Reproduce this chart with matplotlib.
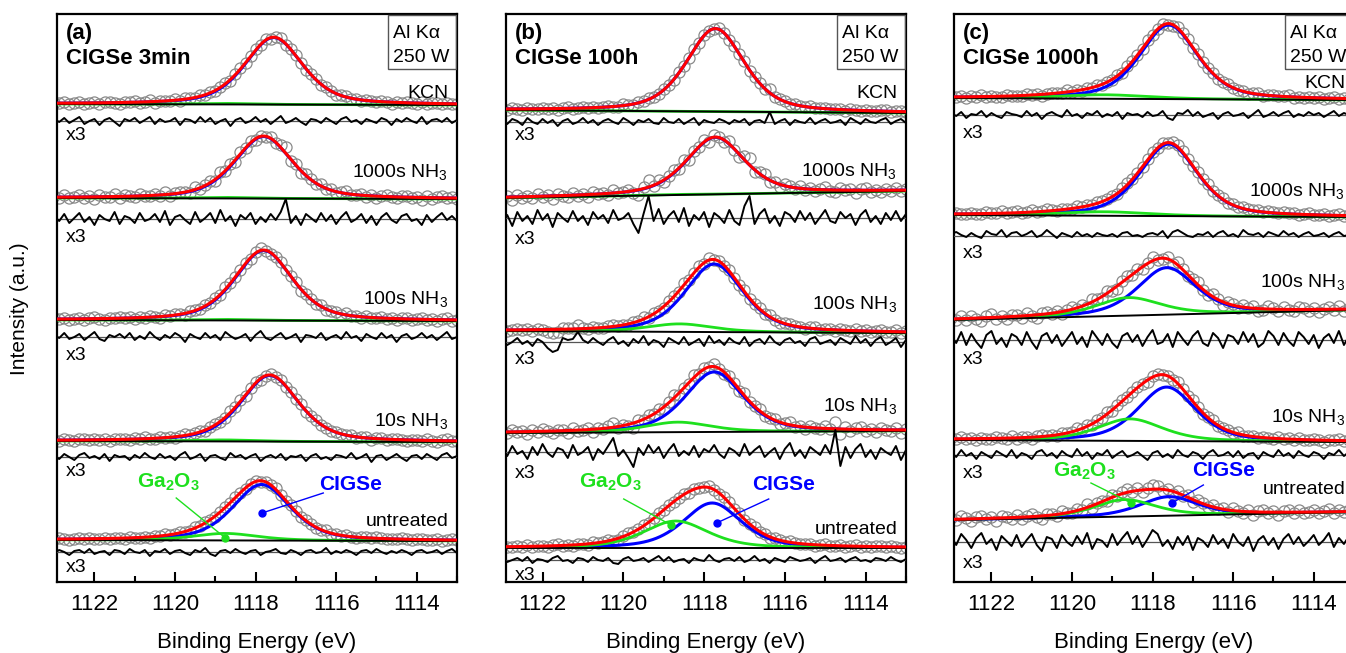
import numpy as np
import matplotlib
matplotlib.use('Agg')
import matplotlib.pyplot as plt
from matplotlib.patches import Rectangle

plt.rcParams['font.family'] = ['Liberation Sans', 'DejaVu Sans']
plt.rcParams['mathtext.fontset'] = 'custom'
plt.rcParams['mathtext.rm'] = 'Liberation Sans'
plt.rcParams['mathtext.bf'] = 'Liberation Sans:bold'

# ---- data (intensities in arbitrary units) ----
treatments = ['KCN', '1000s NH$_3$', '100s NH$_3$', '10s NH$_3$', 'untreated']
samples = ['CIGSe 3min', 'CIGSe 100h', 'CIGSe 1000h']
tags = ['(a)', '(b)', '(c)']
major_ticks = [1122, 1120, 1118, 1116, 1114]

# CIGSe component: position (eV), height, fwhm
cigse_pos_a = [1117.55, 1117.8, 1117.8, 1117.65, 1117.85]
cigse_amp_a = [67, 62, 70, 66, 56]
cigse_pos_b = [1117.72, 1117.72, 1117.75, 1117.75, 1117.8]
cigse_amp_b = [83, 57, 68, 60, 45]
cigse_pos_c = [1117.6, 1117.6, 1117.65, 1117.65, 1117.6]
cigse_amp_c = [74, 72, 47, 54, 19]
cigse_fwhm = 1.7

# Ga2O3 component
ga_pos_a = [1118.8, 1118.8, 1118.8, 1118.8, 1118.75]
ga_amp_a = [1, 1, 1, 1.5, 7]
ga_pos_b = [1118.7, 1118.7, 1118.6, 1118.65, 1118.7]
ga_amp_b = [0, 0.5, 8, 10, 27]
ga_pos_c = [1119.2, 1119.2, 1118.6, 1118.56, 1118.7]
ga_amp_c = [4, 4, 18, 22, 17]
ga_fwhm_c = [2.6, 2.6, 1.9, 1.9, 1.8]
ga_fwhm = 1.9

# background: level difference high-BE side minus low-BE side
bg_tilt_a = [1, 1, 1, 1, 1]
bg_tilt_b = [3, -7, 2, -2, 0]
bg_tilt_c = [2, 2, -10, 2, -8]

# residuals (already multiplied by 3, as plotted)
res_a = [
    [2,-1,3,-2,1,4,-3,0,2,-4,1,3,-1,-5,2,0,3,-2,1,4,-3,2,-1,0,3,-4,2,1,-2,4,-1,3,-3,0,2,-5,1,3,-2,0,4,-1,2,-3,1,5,-2,0,3,-1,-4,2,1,-2,3,0,-3,2,4,-1,1,-3,2,0,-2,3,1,-4,2,-1,3,0,-2,4,-3,1,2,-1,3,-2,1],
    [3,-2,5,-4,1,6,-3,2,-6,4,0,-2,7,-5,3,1,-4,6,-2,0,5,-3,8,-6,2,4,-1,-5,7,-3,1,6,-4,9,-2,3,-7,4,0,6,-5,2,-3,5,-1,7,20,-4,3,-6,5,1,-3,6,-2,4,-5,2,7,-3,0,5,-4,3,-6,2,6,-1,-4,3,5,-2,0,-6,4,-3,2,6,-1,3,-2],
    [2,-1,4,-2,0,3,-3,1,5,-2,-4,2,0,3,-1,4,-3,1,-2,5,0,-3,2,-1,4,1,-5,3,0,-2,4,-1,2,-3,5,1,-2,0,3,-4,2,6,-1,-3,1,4,-2,0,3,-5,2,1,-1,4,-3,0,2,-2,5,-1,1,-4,3,0,-2,4,-1,2,-5,1,3,-2,0,4,-1,2,-3,1,5,-2,0],
    [1,-2,3,0,-3,2,4,-1,1,-2,3,-4,2,0,1,-3,2,-1,4,0,-2,3,-1,1,-3,2,5,-2,0,3,-4,1,2,-1,-3,4,0,2,-2,1,3,-4,0,2,-1,3,-3,1,0,2,-4,1,3,-2,0,-3,2,1,-1,4,-2,0,3,-5,1,2,-3,0,3,-1,-4,1,2,-2,3,0,-3,2,4,-1,1],
    [-1,2,0,-3,1,2,-1,3,-2,0,1,-3,2,1,-2,3,0,-1,2,-4,1,0,3,-2,1,2,-1,-3,2,0,4,-2,-4,1,2,-1,3,0,-2,1,2,-3,0,1,3,-1,-2,2,0,-3,1,2,-1,0,4,-2,1,-1,2,0,-3,1,2,-1,3,0,-2,1,-1,2,0,-3,1,2,-1,0,2,-2,1,3,-1],
]
res_b = [
    [2,-2,3,1,-3,4,0,-2,3,-1,2,-4,1,3,-2,0,4,-1,2,-3,1,3,0,-2,4,1,-3,2,0,3,-1,-2,4,0,-1,3,-2,1,4,-3,2,0,-1,3,1,-2,2,0,3,-3,1,2,-1,10,-2,1,3,-3,2,0,-1,4,-2,1,3,-1,0,2,-3,4,1,-2,3,0,-1,2,4,-2,1,3,-1],
    [-5,3,-8,6,-3,2,-6,8,-2,4,-9,5,0,-4,7,-3,2,-7,6,-1,3,-5,8,-2,0,5,-6,-15,4,22,-3,9,-6,2,7,-4,10,-8,3,-2,6,-9,5,1,-5,8,-3,-7,12,22,-6,4,9,-5,2,-8,6,3,-4,7,-2,5,-6,1,8,-3,-5,6,0,4,-7,3,8,-4,2,-6,5,-2,7,-3,4],
    [2,-3,0,4,-2,1,-4,3,0,-6,-10,-8,4,2,3,10,2,-1,4,0,-3,2,5,-2,1,-4,3,-1,6,-3,2,0,-5,4,1,-2,5,-3,0,3,-4,6,-1,2,-3,4,0,-2,5,-4,1,3,-2,6,0,-3,2,4,-1,1,-4,3,5,-2,0,2,-3,4,1,-2,6,-1,3,-4,2,5,-3,0,4,-5,2],
    [3,-4,6,-2,1,-7,5,-3,8,-1,-5,4,2,-6,7,-3,0,5,-8,3,-2,6,14,-4,2,-6,-15,4,-3,7,-1,5,-6,2,8,-4,1,-3,6,-5,3,0,7,-2,-6,4,1,-4,8,-3,2,6,-5,0,4,-7,3,9,-4,2,-6,5,1,-3,7,-2,22,-14,5,-6,3,8,-5,2,-7,4,0,-3,6,-8,2],
    [1,-2,0,2,-1,3,-3,1,0,-2,2,4,-1,0,-3,2,1,-2,3,0,-1,2,-3,-4,1,3,-1,0,2,-2,1,4,-1,3,-2,0,1,-3,2,0,-1,5,0,-2,1,2,-1,3,-2,0,4,-1,1,-3,2,0,-2,3,1,-1,0,2,-3,1,4,-1,0,2,-2,1,3,-1,0,-2,2,1,-1,3,0,-2,1],
]
res_c = [
    [2,-1,3,-3,1,0,4,-2,2,-1,-3,3,1,0,-2,4,-1,2,-4,1,3,0,-2,5,-1,1,-3,2,0,4,-2,1,-1,3,-4,2,0,1,-2,3,-1,0,4,-3,-5,2,1,5,-1,3,-2,0,2,-4,1,3,-1,0,2,-3,1,5,-2,0,3,-1,2,4,-2,1,-1,3,0,2,-2,1,4,-1,2,0,1],
    [2,4,1,-1,3,0,-2,5,2,1,6,-1,3,4,0,2,5,-1,1,6,2,-2,3,1,-1,4,0,2,-1,3,1,0,2,-1,3,4,0,1,-1,2,3,1,5,-2,4,6,3,0,-1,2,1,4,-1,3,5,0,2,-1,6,2,1,3,-1,4,2,0,5,1,3,-1,2,4,0,1,3,-1,2,4,0,1,2],
    [4,-3,8,-5,6,-2,-8,5,9,-4,2,-7,6,3,-5,8,-2,-9,4,7,-3,5,-6,1,8,-4,3,-7,9,2,-5,6,-3,-8,4,7,-2,5,-6,3,10,-4,-2,6,-7,8,1,-5,4,9,-3,-6,7,2,-8,5,3,-4,8,-2,6,-7,-3,9,4,-5,7,-1,-6,8,3,-4,5,-8,2,6,-3,9,-5,4,-2],
    [3,-2,5,-1,2,-4,3,0,-3,4,1,-2,5,-3,2,0,-4,3,5,-1,2,-3,4,0,-2,6,-1,3,-4,2,0,5,-3,1,4,-2,0,3,-1,-5,2,4,-2,1,-3,5,0,-2,3,1,-4,2,5,-1,0,3,-2,4,-3,1,2,-4,3,0,-2,5,-1,2,-3,4,0,-2,3,1,-4,2,0,5,-1,3,-2],
    [5,-3,8,2,-6,4,9,-2,3,-8,6,1,-4,7,-5,2,8,-3,-9,5,3,-6,7,0,-4,6,-2,9,-7,3,1,-5,8,-3,4,10,-2,6,-5,3,12,8,-4,2,-7,5,-3,6,-8,4,1,-5,7,-2,3,-6,8,0,-4,5,-9,2,6,-3,4,-7,3,8,-2,5,-4,1,7,-3,2,9,-5,4,-2,6,3],
]

# ---- layout (pixel rows measured from top of figure) ----
W, H = 1346, 653
ax_top, ax_bot = 14, 582
px_per_ev = 40.875
panel_left = [57, 506, 954]
x1122_px = [95, 543, 992]
base_py = [[105, 199, 321, 442, 541], [113, 191, 333, 431, 548], [100, 217, 310, 442, 512]]
resid_py = [[121, 219, 337, 457, 552], [122, 218, 342, 452, 560], [115, 236, 340, 455, 542]]
x3_py = [[136, 238, 355, 472, 568], [135, 240, 360, 473, 575], [133, 253, 360, 473, 563]]
label_py = [[93, 173, 300, 422, 522], [93, 172, 305, 407, 529], [84, 192, 283, 418, 490]]
# annotation: (text E, text py, line start E, py, dot E, py)
ga_note = [(1120.17, 482, 1119.97, 498, 1118.75, 538),
           (1120.31, 482, 1119.99, 499, 1118.82, 525),
           (1119.70, 471, 1119.53, 483, 1118.53, 503)]
cig_note = [(1115.64, 485, 1116.32, 493, 1117.84, 513),
            (1116.03, 485, 1116.40, 499, 1117.69, 523),
            (1116.25, 471, 1116.74, 485, 1117.52, 503)]

RED, BLUE, GREEN, GREY = '#ff0000', '#0000ff', '#1ee01e', '#8a8a8a'


def pvoigt(e, pos, amp, fwhm, eta=0.5):
    u = (e - pos) / fwhm
    return amp * (eta / (1 + 4 * u ** 2) + (1 - eta) * np.exp(-4 * np.log(2) * u ** 2))


def yv(py):
    return ax_bot - py


panels = [
    (cigse_pos_a, cigse_amp_a, ga_pos_a, ga_amp_a, [ga_fwhm] * 5, bg_tilt_a, res_a),
    (cigse_pos_b, cigse_amp_b, ga_pos_b, ga_amp_b, [ga_fwhm] * 5, bg_tilt_b, res_b),
    (cigse_pos_c, cigse_amp_c, ga_pos_c, ga_amp_c, ga_fwhm_c, bg_tilt_c, res_c),
]

fig = plt.figure(figsize=(W / 100, H / 100), dpi=100)
e_fine = np.linspace(1123.5, 1112.5, 600)

for p, (cpos, camp, gpos, gamp, gfw, tilt, res) in enumerate(panels):
    ax = fig.add_axes([panel_left[p] / W, 1 - ax_bot / H, 400 / W, (ax_bot - ax_top) / H])
    xl = 1122 + (x1122_px[p] - panel_left[p]) / px_per_ev
    ax.set_xlim(xl, xl - 400 / px_per_ev)
    ax.set_ylim(0, ax_bot - ax_top)

    for i in range(5):
        y0 = yv(base_py[p][i])

        def parts(e):
            bg = y0 + tilt[i] * (e - 1113) / 10.0
            cg = pvoigt(e, cpos[i], camp[i], cigse_fwhm)
            ga = pvoigt(e, gpos[i], gamp[i], gfw[i])
            return bg, cg, ga

        bg, cg, ga = parts(e_fine)
        r = np.array(res[i], dtype=float)
        e_d = np.linspace(1123, 1113, len(r))
        bgd, cgd, gad = parts(e_d)
        ax.plot(e_d, bgd + cgd + gad + r / 3, 'o', mfc='none', mec=GREY, ms=8, mew=0.9, zorder=2)
        ax.plot(e_fine, bg + cg, color=BLUE, lw=2.2, zorder=3)
        ax.plot(e_fine, bg + ga, color=GREEN, lw=2.0, zorder=3)
        ax.plot(e_fine, bg, color='black', lw=1.4, zorder=3)
        ax.plot(e_fine, bg + cg + ga, color=RED, lw=2.2, zorder=4)

        rc = yv(resid_py[p][i])
        ax.axhline(rc, color='#555555', lw=0.9, zorder=3)
        ax.plot(e_d, rc + r, color='black', lw=1.4, zorder=4)

        ax.text(0.022, yv(x3_py[p][i]) / (ax_bot - ax_top), 'x3', transform=ax.transAxes,
                ha='left', va='center', fontsize=14)
        ax.text(0.978, yv(label_py[p][i]) / (ax_bot - ax_top), treatments[i],
                transform=ax.transAxes, ha='right', va='center', fontsize=14)

    # component annotations
    for note, col, txt in [(ga_note[p], GREEN, r'Ga$_\mathbf{2}$O$_\mathbf{3}$'),
                           (cig_note[p], BLUE, 'CIGSe')]:
        te, tpy, le, lpy, de, dpy = note
        ax.text(te, yv(tpy), txt, color=col, fontsize=15, fontweight='bold',
                ha='center', va='center', zorder=6)
        ax.plot([le, de], [yv(lpy), yv(dpy)], color=col, lw=1.0, zorder=6)
        ax.plot(de, yv(dpy), 'o', color=col, ms=5, zorder=6)

    # panel tag, sample name and source box
    ax.text(0.022, 0.966, tags[p], transform=ax.transAxes, fontsize=16,
            fontweight='bold', va='center', ha='left')
    ax.text(0.022, 0.922, samples[p], transform=ax.transAxes, fontsize=16,
            fontweight='bold', va='center', ha='left')
    ax.add_patch(Rectangle((0.828, 0.903), 0.17, 0.095, transform=ax.transAxes,
                           fill=False, ec='#555555', lw=1.0, zorder=6))
    ax.text(0.84, 0.966, 'Al K\u03b1', transform=ax.transAxes, fontsize=14, va='center', ha='left')
    ax.text(0.84, 0.924, '250 W', transform=ax.transAxes, fontsize=14, va='center', ha='left')

    ax.set_xticks(major_ticks)
    ax.set_xticks([1121, 1119, 1117, 1115, 1113], minor=True)
    ax.set_yticks([])
    ax.tick_params(axis='x', which='major', direction='in', length=7, width=1.5,
                   labelsize=16, pad=9)
    ax.tick_params(axis='x', which='minor', direction='in', length=4, width=1.5)
    for s in ax.spines.values():
        s.set_linewidth(1.6)
    ax.set_xlabel('Binding Energy (eV)', fontsize=16)
    ax.xaxis.set_label_coords(0.5, -0.088)

fig.text(20 / W, 1 - 309 / H, 'Intensity (a.u.)', rotation=90, fontsize=15,
         ha='center', va='center')

fig.savefig('out.png', dpi=100)
